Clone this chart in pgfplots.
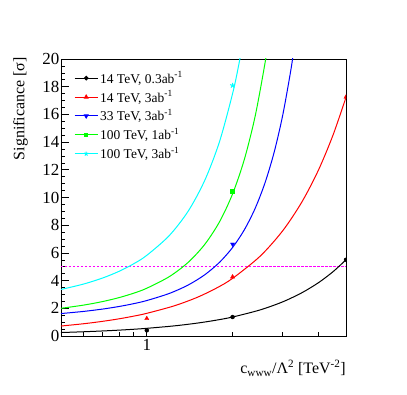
\documentclass[border=0pt]{standalone}
\usepackage{fontspec}
\setmainfont{Liberation Serif}
\usepackage{pgfplots}
\pgfplotsset{compat=1.18}
\definecolor{rBlack}{RGB}{0,0,0}
\definecolor{rRed}{RGB}{255,0,0}
\definecolor{rBlue}{RGB}{0,0,255}
\definecolor{rGreen}{RGB}{0,255,0}
\definecolor{rCyan}{RGB}{0,255,255}
\definecolor{rMagenta}{RGB}{255,0,255}

\begin{document}
\begin{tikzpicture}
\useasboundingbox (-61bp,-59bp) rectangle (346bp,336bp);
\begin{axis}[
  at={(0,0)}, anchor=south west,
  scale only axis, width=285bp, height=277bp,
  xmode=log, xmin=0.5, xmax=5, ymin=0, ymax=20,
  xtick={1}, xticklabels={1},
  minor xtick={0.6,0.7,0.8,0.9,2,3,4},
  ytick={0,2,...,20}, minor y tick num=3,
  xtick pos=left, ytick pos=left,
  major tick length=8bp, minor tick length=4bp,
  tick style={black, line width=0.6bp},
  axis line style={black, line width=0.8bp},
  tick label style={font=\fontsize{17}{17}\selectfont},
  yticklabel style={inner xsep=1.5bp},
  /pgf/number format/assume math mode=true,
  label style={font=\fontsize{16}{16}\selectfont},
  xlabel={c\textsubscript{www}/Λ\textsuperscript{2} [TeV\textsuperscript{-2}]},
  xlabel style={at={(rel axis cs:1,-0.0866)}, anchor=north east, inner sep=0pt},
  ylabel={Significance [σ]},
  ylabel style={at={(rel axis cs:-0.1158,1.007)}, anchor=south east, inner sep=0pt},
  clip marker paths=true,
  legend style={at={(rel axis cs:0.0456,0.962)}, anchor=north west, draw=none, fill=none,
    inner sep=0pt, font=\fontsize{13.5}{16}\selectfont, row sep=2bp,
    cells={anchor=west}},
  legend image code/.code={\draw[mark repeat=2,mark phase=2,#1] plot coordinates {(0bp,0bp)(11.5bp,0bp)(23bp,0bp)};},
]
% 5 sigma reference
\addplot[rMagenta, line width=1bp, dash pattern=on 2.5bp off 1.5bp, forget plot] coordinates {(0.5,5) (5,5)};

% fitted curves
\addplot[rBlack, line width=1bp, smooth, forget plot] coordinates {
(0.5,0.25) (0.6,0.306) (0.7,0.364) (0.8,0.424) (0.9,0.487) (1,0.554) (1.25,0.732) (1.5,0.928)
(1.75,1.141) (2,1.371) (2.5,1.885) (3,2.468) (3.5,3.122) (4,3.845) (4.5,4.639) (5,5.502)};
\addplot[rRed, line width=1bp, smooth, forget plot] coordinates {
(0.5,0.72) (0.6,0.885) (0.7,1.059) (0.8,1.242) (0.9,1.435) (1,1.637) (1.25,2.182) (1.5,2.784)
(1.75,3.444) (2,4.161) (2.5,5.768) (3,7.605) (3.5,9.672) (4,11.969) (4.5,14.496) (5,17.233)};
\addplot[rBlue, line width=1bp, smooth, forget plot] coordinates {
(0.5,1.62) (0.6,1.775) (0.7,1.945) (0.8,2.132) (0.9,2.336) (1,2.56) (1.2,3.074) (1.4,3.691)
(1.6,4.432) (1.8,5.322) (2,6.391) (2.2,7.674) (2.4,9.216) (2.6,11.07) (2.8,13.29) (3,15.96)
(3.2,19.16) (3.3,21.0)};
\addplot[rGreen, line width=1bp, smooth, forget plot] coordinates {
(0.5,2.0) (0.6,2.23) (0.7,2.487) (0.8,2.774) (0.9,3.093) (1,3.449) (1.2,4.289) (1.4,5.334)
(1.6,6.634) (1.8,8.25) (2,10.26) (2.2,12.76) (2.4,15.87) (2.6,19.73) (2.7,22.0)};
\addplot[rCyan, line width=1bp, smooth, forget plot] coordinates {
(0.5,3.36) (0.6,3.751) (0.7,4.187) (0.8,4.674) (0.9,5.217) (1,5.824) (1.2,7.257) (1.4,9.042)
(1.6,11.27) (1.8,14.04) (2,17.5) (2.1,19.53) (2.2,21.8)};

% measured points
\addplot[rBlack, only marks, mark=*, mark size=2bp, forget plot] coordinates {(1,0.41) (2,1.37) (5,5.5)};
\addplot[rRed, only marks, mark=triangle*, mark size=2.4bp, forget plot] coordinates {(1,1.26) (2,4.27) (5,17.25)};
\addplot[rBlue, only marks, mark=triangle*, mark size=2.4bp, mark options={rotate=180}, forget plot] coordinates {(2,6.63)};
\addplot[rGreen, only marks, mark=square*, mark size=2bp, forget plot] coordinates {(2,10.42)};
\addplot[rCyan, only marks, mark=star, mark size=2.6bp, mark options={line width=1bp}, forget plot] coordinates {(2,18.09)};

\addlegendimage{rBlack, line width=1bp, mark=*, mark size=1.8bp}
\addlegendentry{14 TeV, 0.3ab\textsuperscript{-1}}
\addlegendimage{rRed, line width=1bp, mark=triangle*, mark size=2bp}
\addlegendentry{14 TeV, 3ab\textsuperscript{-1}}
\addlegendimage{rBlue, line width=1bp, mark=triangle*, mark size=2bp, mark options={rotate=180}}
\addlegendentry{33 TeV, 3ab\textsuperscript{-1}}
\addlegendimage{rGreen, line width=1bp, mark=square*, mark size=1.8bp}
\addlegendentry{100 TeV, 1ab\textsuperscript{-1}}
\addlegendimage{rCyan, line width=1bp, mark=star, mark size=2.2bp}
\addlegendentry{100 TeV, 3ab\textsuperscript{-1}}
\end{axis}
\end{tikzpicture}
\end{document}
